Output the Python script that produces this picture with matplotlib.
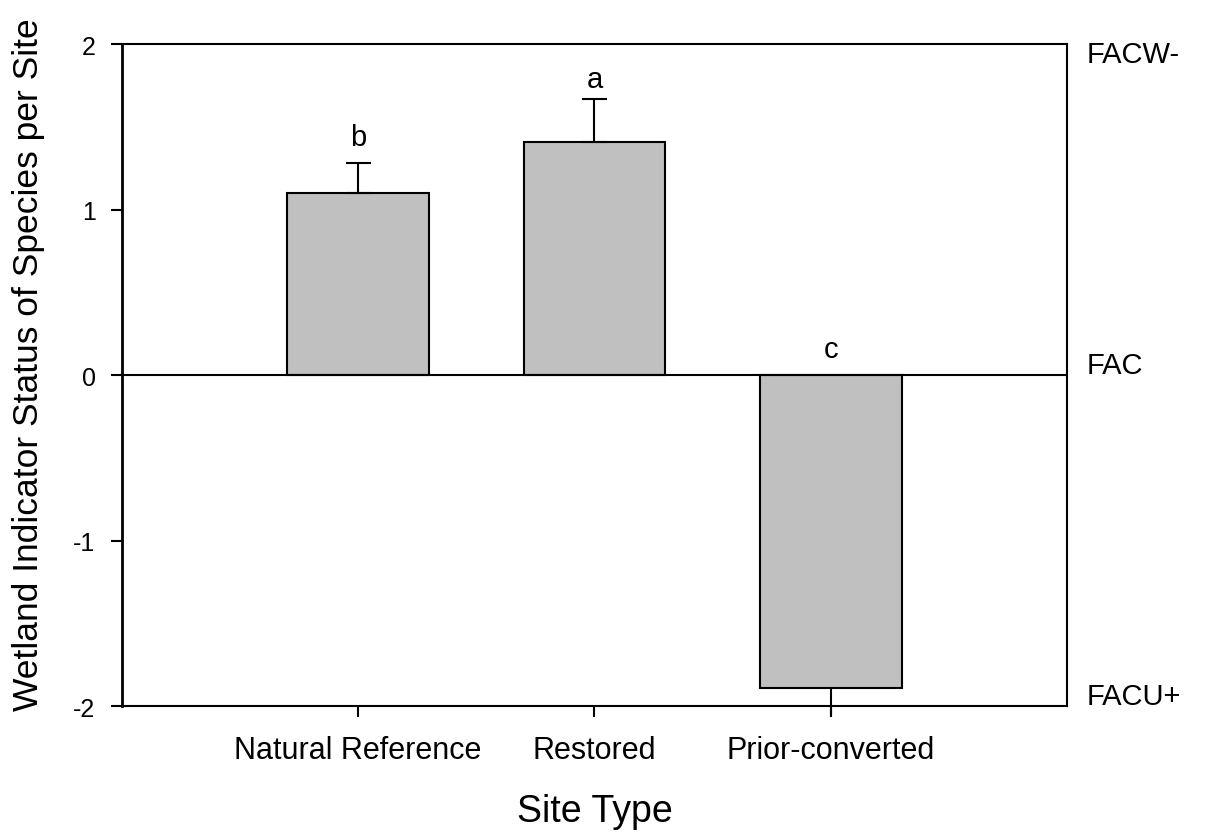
import matplotlib
matplotlib.use('Agg')
from matplotlib import pyplot as plt

sites = ['Natural Reference', 'Restored', 'Prior-converted']
means = [1.10, 1.41, -1.89]
errs = [0.18, 0.26, 0.17]
letters = ['b', 'a', 'c']
letter_y = [1.44, 1.79, 0.16]
right_labels = ['FACW-', 'FAC', 'FACU+']
right_pos = [1.94, 0.06, -1.94]

plt.rcParams['font.family'] = ['Liberation Sans', 'DejaVu Sans']
plt.rcParams['axes.unicode_minus'] = False

fig = plt.figure(figsize=(12.07, 8.37), dpi=100)
ax = fig.add_axes([0.101, 0.155, 0.783, 0.791])

x = list(range(len(sites)))
ax.bar(x, means, width=0.6, color='#c0c0c0', edgecolor='black', linewidth=1.5, zorder=2)

for i in x:
    if means[i] >= 0:
        ax.errorbar(i, means[i], yerr=[[0], [errs[i]]], color='black', capsize=9,
                    elinewidth=1.5, capthick=1.5, zorder=3)
    else:
        ax.errorbar(i, means[i], yerr=[[errs[i]], [0]], color='black', capsize=0,
                    elinewidth=1.5, zorder=3, clip_on=False)
    ax.text(i, letter_y[i], letters[i], ha='center', va='center', fontsize=21)

ax.axhline(0, color='black', linewidth=1.5, zorder=4)

ax.set_xlim(-1, 3)
ax.set_ylim(-2, 2)
ax.set_yticks([-2, -1, 0, 1, 2])
ax.set_xticks(x)
ax.set_xticklabels(sites)
ax.tick_params(axis='both', direction='out', length=8, width=1.5)
ax.tick_params(axis='y', labelsize=18, pad=11)
ax.tick_params(axis='x', labelsize=22, pad=13)
ax.tick_params(right=False, top=False)

for s in ['top', 'right', 'bottom']:
    ax.spines[s].set_linewidth(1.5)
ax.spines['left'].set_linewidth(2)

for lab, y in zip(right_labels, right_pos):
    ax.text(1.021, y, lab, transform=ax.get_yaxis_transform(), ha='left', va='center', fontsize=21)

ax.set_xlabel('Site Type', fontsize=27, labelpad=20)
ax.set_ylabel('Wetland Indicator Status of Species per Site', fontsize=25.5)
ax.yaxis.set_label_coords(-0.081, 0.517)

plt.savefig('out.png', dpi=100)
